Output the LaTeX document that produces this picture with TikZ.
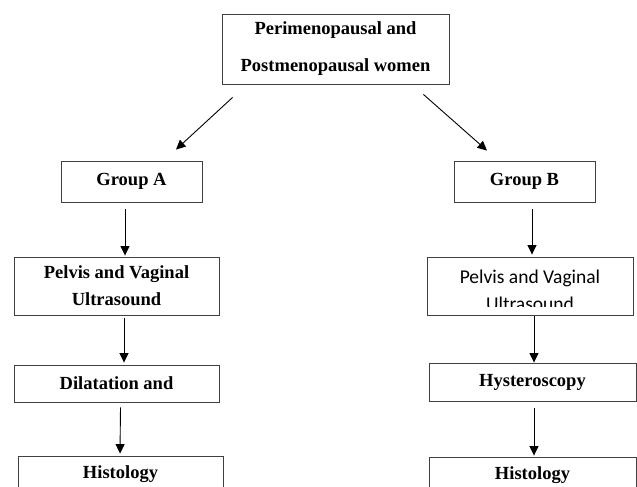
\documentclass[tikz,border=0pt]{standalone}
\usepackage{fontspec}
\setmainfont{Liberation Serif}
\newfontfamily\calibrifont{Carlito}
\usetikzlibrary{arrows.meta}

\tikzset{
  box/.style={draw=black!75, line width=0.9pt, inner sep=0pt, align=center,
    font=\bfseries\fontsize{18.5}{27}\selectfont},
  arr/.style={-{Triangle[length=9.5pt,width=9pt]}, line width=0.9pt},
}

\begin{document}
\begin{tikzpicture}[x=1pt,y=-1pt]
    \useasboundingbox (0,0) rectangle (637,487);

    % top box
    \node[box, minimum width=227pt, minimum height=70pt,
      font=\bfseries\fontsize{18.5}{37}\selectfont] at (335.5,49) (women)
      {Perimenopausal and\\Postmenopausal women};

    % group A column
    \node[box, minimum width=141pt, minimum height=41pt] at (131.5,181.5) (groupA) {Group A};
    \node[box, minimum width=205pt, minimum height=58pt] at (116.5,286) (pelvisA) {Pelvis and Vaginal\\Ultrasound};
    \node[box, minimum width=205pt, minimum height=37pt] at (116.5,383.5) (dilA) {Dilatation and};
    \node[box, minimum width=205pt, minimum height=36pt] at (120.5,474) (histA) {Histology};

    % group B column
    \node[box, minimum width=141pt, minimum height=41pt] at (524.5,181.5) (groupB) {Group B};
    \node[box, minimum width=206pt, minimum height=58pt, path picture={
        \clip ([yshift=9pt]path picture bounding box.south west) rectangle (path picture bounding box.north east);
        \node[draw=none, align=center, font=\calibrifont\fontsize{19.5}{26.5}\selectfont]
          at ([yshift=-4.5pt]path picture bounding box.center) (pelvisBtext) {Pelvis and Vaginal\\Ultrasound};
      }] at (530,286) (pelvisB) {};
    \node[box, minimum width=207pt, minimum height=38pt] at (532.5,382) (hyst) {Hysteroscopy};
    \node[box, minimum width=207pt, minimum height=36pt] at (532.5,475) (histB) {Histology};

    % arrows
    \draw[arr] ([xshift=11pt,yshift=-13pt]women.south west) -- ([xshift=44.5pt,yshift=11pt]groupA.north);
    \draw[arr] ([xshift=-26pt,yshift=-10pt]women.south east) -- ([xshift=-37.5pt,yshift=10pt]groupB.north);

    \draw[arr] ([xshift=-6.5pt,yshift=-7pt]groupA.south) -- ([xshift=8.5pt,yshift=1pt]pelvisA.north);
    \draw[arr] ([xshift=7.5pt,yshift=-3pt]pelvisA.south) -- ([xshift=7.5pt,yshift=2pt]dilA.north);
    \draw[arr] ([xshift=4pt,yshift=-5pt]dilA.south) -- ([xshift=-0.5pt,yshift=2pt]histA.north);

    \draw[arr] ([xshift=7.5pt,yshift=-7pt]groupB.south) -- ([xshift=2pt,yshift=2pt]pelvisB.north);
    \draw[arr] ([xshift=4pt,yshift=-1pt]pelvisB.south) -- ([xshift=1.5pt]hyst.north);
    \draw[arr] ([xshift=1.5pt,yshift=-7pt]hyst.south) -- ([xshift=1.5pt,yshift=1pt]histB.north);
\end{tikzpicture}
\end{document}
